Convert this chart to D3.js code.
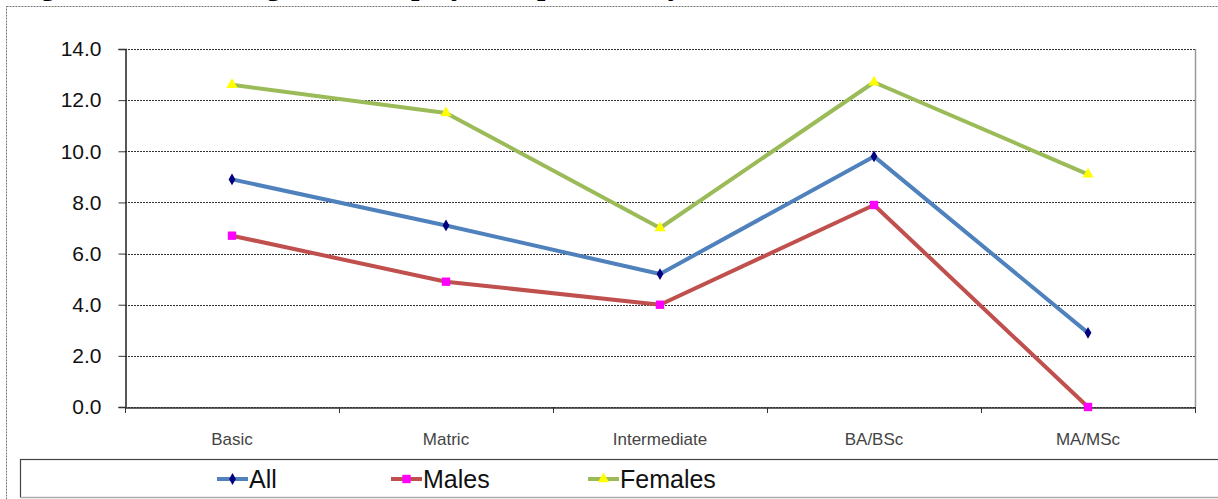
<!DOCTYPE html>
<html>
<head>
<meta charset="utf-8">
<script src="https://cdn.jsdelivr.net/npm/d3@7"></script>
<style>
  body { margin: 0; background: #fff; }
  svg { display: block; }
</style>
</head>
<body>
<div class="chart"></div>
<script>
// Data
const categories = ["Basic", "Matric", "Intermediate", "BA/BSc", "MA/MSc"];
const allValues = [8.9, 7.1, 5.2, 9.8, 2.9];
const maleValues = [6.7, 4.9, 4.0, 7.9, 0.0];
const femaleValues = [12.6, 11.5, 7.0, 12.7, 9.1];
const yTicks = [0, 2, 4, 6, 8, 10, 12, 14];
const seriesNames = ["All", "Males", "Females"];

const series = [
  { name: seriesNames[0], values: allValues, line: "#4F81BD", mark: "#000080", shape: d3.symbolDiamond, size: 40 },
  { name: seriesNames[1], values: maleValues, line: "#C0504D", mark: "#FF00FF", shape: d3.symbolSquare, size: 70 },
  { name: seriesNames[2], values: femaleValues, line: "#9BBB59", mark: "#FFFF00", shape: d3.symbolTriangle, size: 55 }
];

const width = 1218;
const height = 499;
const margin = { top: 49, right: 23, bottom: 92, left: 125 };

const svg = d3.select(".chart")
  .append("svg")
  .attr("width", width)
  .attr("height", height);

// caption above the frame, cut by the top edge as in the source figure
svg.append("text")
  .attr("x", 14)
  .attr("y", -5)
  .attr("font-family", "Liberation Serif, serif")
  .attr("font-weight", "bold")
  .attr("font-size", 30)
  .text("Figure 13: Percentage of Unemployed Population by Level of Education and Sex");

// outer chart frame
svg.append("rect")
  .attr("x", 6.5).attr("y", 6.5)
  .attr("width", 1230).attr("height", 500)
  .attr("fill", "#fff")
  .attr("stroke", "#777")
  .attr("stroke-dasharray", "2,1");

const x = d3.scaleBand()
  .domain(categories)
  .range([margin.left, width - margin.right])
  .padding(0);

const y = d3.scaleLinear()
  .domain([0, 14])
  .range([height - margin.bottom, margin.top]);

// grid lines
svg.append("g")
  .selectAll("line")
  .data(yTicks)
  .enter().append("line")
    .attr("x1", margin.left)
    .attr("x2", width - margin.right)
    .attr("y1", d => Math.round(y(d)) + 0.5)
    .attr("y2", d => Math.round(y(d)) + 0.5)
    .attr("stroke", "#333")
    .attr("stroke-width", 1.2)
    .attr("stroke-dasharray", "2,1");

// right border of plot area
svg.append("line")
  .attr("x1", width - margin.right + 0.5).attr("x2", width - margin.right + 0.5)
  .attr("y1", y(14)).attr("y2", y(0))
  .attr("stroke", "#999")
  .attr("stroke-width", 1.5);

// y axis
const yAxis = svg.append("g")
  .attr("transform", `translate(${margin.left + 0.5},0)`)
  .call(d3.axisLeft(y).tickValues(yTicks).tickFormat(d3.format(".1f")).tickSize(7).tickPadding(17));
yAxis.select(".domain").attr("stroke", "#222").attr("stroke-width", 1.5);
yAxis.selectAll(".tick line").attr("stroke", "#333");
yAxis.selectAll(".tick text")
  .attr("font-family", "Liberation Sans, Arial, sans-serif")
  .attr("font-size", 21)
  .attr("fill", "#111");

// x axis
const xAxis = svg.append("g")
  .attr("transform", `translate(0,${Math.round(y(0)) + 0.5})`)
  .call(d3.axisBottom(x).tickSize(0).tickPadding(25));
xAxis.select(".domain").attr("stroke", "#333").attr("stroke-width", 1.5);
xAxis.selectAll(".tick text")
  .attr("font-family", "Liberation Sans, Arial, sans-serif")
  .attr("font-size", 17)
  .attr("fill", "#444");

// category boundary ticks
const bounds = categories.map(c => x(c)).concat([x(categories[categories.length - 1]) + x.bandwidth()]);
svg.append("g")
  .selectAll("line")
  .data(bounds)
  .enter().append("line")
    .attr("x1", d => Math.round(d) + 0.5)
    .attr("x2", d => Math.round(d) + 0.5)
    .attr("y1", y(0))
    .attr("y2", y(0) + 6)
    .attr("stroke", "#333");

const line = d3.line()
  .x((d, i) => x(categories[i]) + x.bandwidth() / 2)
  .y(d => y(d));

series.forEach(s => {
  svg.append("path")
    .datum(s.values)
    .attr("d", line)
    .attr("fill", "none")
    .attr("stroke", s.line)
    .attr("stroke-width", 4)
    .attr("stroke-linejoin", "round");

  svg.append("g")
    .selectAll("path")
    .data(s.values)
    .enter().append("path")
      .attr("transform", (d, i) => `translate(${x(categories[i]) + x.bandwidth() / 2},${y(d)})`)
      .attr("d", d3.symbol().type(s.shape).size(s.size))
      .attr("fill", s.mark);
});

// legend
const legend = svg.append("g");
legend.append("rect")
  .attr("x", 20.5).attr("y", 459.5)
  .attr("width", 1230).attr("height", 38)
  .attr("fill", "#fff")
  .attr("stroke", "#444")
  .attr("stroke-width", 1.2);
legend.append("line")
  .attr("x1", 20).attr("x2", width)
  .attr("y1", 497.5).attr("y2", 497.5)
  .attr("stroke", "#aaa");

const legendX = [217, 391, 588];
series.forEach((s, i) => {
  const g = legend.append("g").attr("transform", `translate(${legendX[i]},479)`);
  g.append("line")
    .attr("x1", 0).attr("x2", 31)
    .attr("stroke", s.line)
    .attr("stroke-width", 4);
  g.append("path")
    .attr("transform", "translate(15.5,0)")
    .attr("d", d3.symbol().type(s.shape).size(s.size))
    .attr("fill", s.mark);
  g.append("text")
    .attr("x", 32)
    .attr("y", 9)
    .attr("font-family", "Liberation Sans, Arial, sans-serif")
    .attr("font-size", 25)
    .attr("fill", "#111")
    .text(s.name);
});
</script>
</body>
</html>
